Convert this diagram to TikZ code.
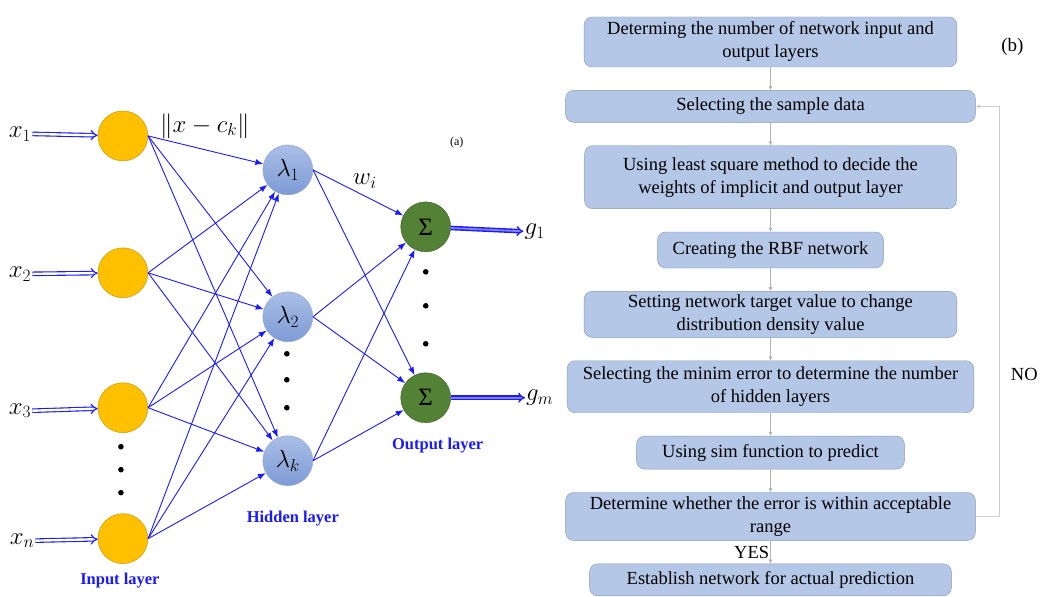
\documentclass[tikz,border=0pt]{standalone}
\usepackage{fontspec}
\setmainfont{Liberation Serif}
\usetikzlibrary{arrows.meta,positioning}
\definecolor{inpfill}{HTML}{FFC000}
\definecolor{inpdraw}{HTML}{C09000}
\definecolor{hidtop}{HTML}{AABEE6}
\definecolor{hidbot}{HTML}{7E9BD5}
\definecolor{hiddraw}{HTML}{8CA6D8}
\definecolor{outfill}{HTML}{538135}
\definecolor{outdraw}{HTML}{3E6328}
\definecolor{netblue}{HTML}{1A1AFF}
\definecolor{boxfill}{HTML}{B4C7E7}
\definecolor{boxdraw}{HTML}{8497B0}

\begin{document}
\begin{tikzpicture}[x=1pt, y=-1pt, node distance=23pt, inp/.style={circle, draw=inpdraw, fill=inpfill, minimum size=50pt, inner sep=0pt}, hid/.style={circle, draw=hiddraw, top color=hidtop, bottom color=hidbot, minimum size=50pt, inner sep=0pt, font=\fontsize{23}{26}\selectfont}, outp/.style={circle, draw=outdraw, fill=outfill, minimum size=50pt, inner sep=0pt, font=\fontsize{25}{28}\selectfont}, mlab/.style={font=\fontsize{23}{26}\selectfont, inner sep=1pt}, layer/.style={text=netblue, font=\fontsize{16.5}{20}\selectfont\bfseries}, link/.style={draw=netblue, line width=0.9pt, -{Latex[length=8pt,width=6pt]}}, inarr/.style={draw=netblue, double=white, double distance=2.4pt, line width=1.1pt, -{Implies}}, outarr/.style={draw=netblue, double=netblue!55, double distance=1.8pt, line width=1.4pt, -{Implies}}, stepbox/.style={draw=boxdraw, fill=boxfill, rounded corners=8pt, align=center, inner sep=2pt, font=\fontsize{18.5}{23}\selectfont}, flow/.style={draw=gray!60, line width=0.7pt, -{Latex[length=4pt,width=4pt]}}, txt/.style={font=\fontsize{18.5}{23}\selectfont}]
\fill[white] (0,0) rectangle (1041,591);
% (a) RBF network
\node[inp] (in1) at (123,136) {};
\node[inp] (in2) at (123,273) {};
\node[inp] (in3) at (123,408) {};
\node[inp] (in4) at (123,539) {};
\node[hid] (hid1) at (288,170) {$\lambda_1$};
\node[hid] (hid2) at (288,317) {$\lambda_2$};
\node[hid] (hid3) at (288,461) {$\lambda_k$};
\node[outp] (out1) at (426,227) {Σ};
\node[outp] (out2) at (426,398) {Σ};
\node[mlab] (x1) at (20,134) {$x_1$};
\node[mlab] (x2) at (20,274) {$x_2$};
\node[mlab] (x3) at (20,411) {$x_3$};
\node[mlab] (xn) at (22,541) {$x_n$};
\node[mlab] (g1) at (535,232) {$g_1$};
\node[mlab] (gm) at (540,398) {$g_m$};
\node[mlab] (dist) at (205,126) {$\|x-c_k\|$};
\node[mlab] (wi) at (365,181) {$w_i$};
\node[layer] (inlab) at (120,581) {Input layer};
\node[layer] (hidlab) at (293,519) {Hidden layer};
\node[layer] (outlab) at (438,446) {Output layer};
\node[font=\fontsize{12}{14}\selectfont] (figa) at (457,143) {(a)};
\draw[inarr] (x1.east) -- (in1);
\draw[inarr] (x2.east) -- (in2);
\draw[inarr] (x3.east) -- (in3);
\draw[inarr] (xn.east) -- (in4);
\foreach \i in {1,...,4} {\foreach \j in {1,2,3} {\draw[link] (in\i.east) -- (hid\j);}}
\foreach \j in {1,2,3} {\foreach \k in {1,2} {\draw[link] (hid\j.east) -- (out\k);}}
\draw[outarr] (out1) -- (g1);
\draw[outarr] (out2) -- (gm);
\foreach \y in {447,470,493} \fill (121,\y) circle (2.8pt);
\foreach \y in {354,380,408} \fill (287,\y) circle (2.8pt);
\foreach \y in {272,306,344} \fill (426,\y) circle (2.8pt);
% (b) flow chart
\node[stepbox, minimum width=373pt, minimum height=50pt] (b1) at (771,42) {Determing the number of network input and\\output layers};
\node[stepbox, minimum width=410pt, minimum height=32pt, below=of b1] (b2) {Selecting the sample data};
\node[stepbox, minimum width=372pt, minimum height=63pt, below=of b2] (b3) {Using least square method to decide the\\weights of implicit and output layer};
\node[stepbox, minimum width=226pt, minimum height=36pt, below=of b3] (b4) {Creating the RBF network};
\node[stepbox, minimum width=373pt, minimum height=46pt, below=of b4] (b5) {Setting network target value to change\\distribution density value};
\node[stepbox, minimum width=407pt, minimum height=52pt, below=of b5] (b6) {Selecting the minim error to determine the number\\of hidden layers};
\node[stepbox, minimum width=268pt, minimum height=33pt, below=of b6] (b7) {Using sim function to predict};
\node[stepbox, minimum width=410pt, minimum height=48pt, below=of b7] (b8) {Determine whether the error is within acceptable\\range};
\node[stepbox, minimum width=362pt, minimum height=32pt, below=of b8] (b9) {Establish network for actual prediction};
\node[txt, font=\fontsize{19}{23}\selectfont] (figb) at (1013,47) {(b)};
\node[txt] (nolab) at (1025,375) {NO};
\draw[flow] (b1) -- (b2);
\draw[flow] (b2) -- (b3);
\draw[flow] (b3) -- (b4);
\draw[flow] (b4) -- (b5);
\draw[flow] (b5) -- (b6);
\draw[flow] (b6) -- (b7);
\draw[flow] (b7) -- (b8);
\draw[flow] (b8) -- node[txt, left, inner sep=1pt] {YES} (b9);
\draw[flow, draw=gray!40] (b8.east) -- ++(24,0) |- (b2.east);
\end{tikzpicture}
\end{document}
